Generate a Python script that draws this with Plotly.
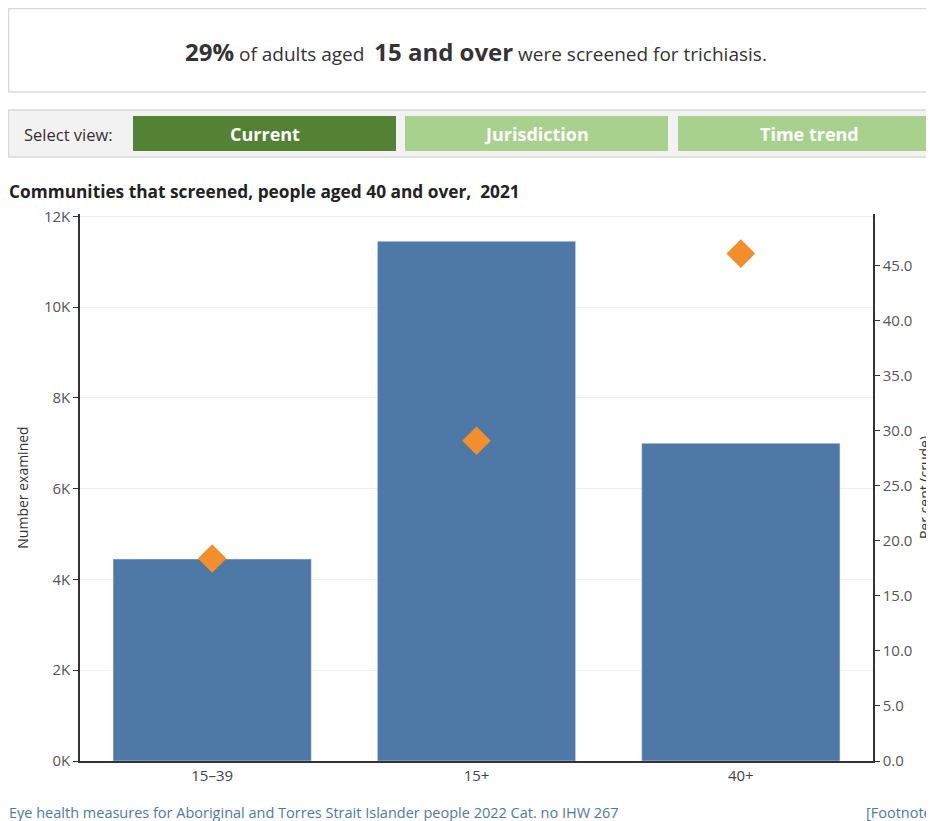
import plotly.graph_objects as go

categories = ["15–39", "15+", "40+"]
number_examined = [4450, 11450, 7000]
percent_crude = [18.4, 29.1, 46.1]
left_tick_values = [0, 2000, 4000, 6000, 8000, 10000, 12000]
left_tick_labels = ["0K", "2K", "4K", "6K", "8K", "10K", "12K"]
right_tick_values = [0, 5, 10, 15, 20, 25, 30, 35, 40, 45]

OFF = 8  # page body margin
W, H = 934 - OFF, 821 - OFF
L, R, T, B = 72, 61, 206, 60
PW, PH = W - L - R, H - T - B

def px(x):
    return (x - OFF - L) / PW

def py(y):
    return (H - B - (y - OFF)) / PH

FONT = "Open Sans"
fig = go.Figure()
fig.add_trace(go.Bar(x=categories, y=number_examined, marker_color="#4E79A7",
                     width=0.75, yaxis="y", name="Number examined"))
fig.add_trace(go.Scatter(x=categories, y=percent_crude, mode="markers", yaxis="y2",
                         marker=dict(symbol="diamond", size=22, color="#F28E2B"),
                         name="Per cent"))

shapes = []
shapes.append(dict(type="rect", xref="paper", yref="paper", x0=px(8.5), x1=px(945),
                   y0=py(92), y1=py(8.5), line=dict(color="#d9d9d9", width=1.5), fillcolor="white", layer="below"))
shapes.append(dict(type="rect", xref="paper", yref="paper", x0=px(8.5), x1=px(945),
                   y0=py(157), y1=py(110), line=dict(color="#d9d9d9", width=1.5), fillcolor="#f2f2f2", layer="below"))
buttons = [("Current", 133, 396, "#548235"), ("Jurisdiction", 405, 668, "#A9D18E"), ("Time trend", 678, 941, "#A9D18E")]
annotations = []
for label, x0, x1, col in buttons:
    shapes.append(dict(type="rect", xref="paper", yref="paper", x0=px(x0), x1=px(x1),
                       y0=py(151), y1=py(116), line=dict(width=0), fillcolor=col, layer="below"))
    annotations.append(dict(x=px((x0 + x1) / 2), y=py(134), xref="paper", yref="paper",
                            text=f"<b>{label}</b>", showarrow=False,
                            font=dict(family=FONT, size=18, color="white"),
                            xanchor="center", yanchor="middle"))

annotations.append(dict(x=px(22), y=py(134), xref="paper", yref="paper", text="Select view:",
                        showarrow=False, font=dict(family=FONT, size=16.5, color="#333"),
                        xanchor="left", yanchor="middle"))
annotations.append(dict(x=px(476), y=py(52), xref="paper", yref="paper",
                        text="<b><span style='font-size:24px'>29%</span></b> of adults aged  "
                             "<b><span style='font-size:24px'>15 and over</span></b> were screened for trichiasis.",
                        showarrow=False, font=dict(family=FONT, size=19, color="#333"),
                        xanchor="center", yanchor="middle"))
annotations.append(dict(x=px(7), y=py(191), xref="paper", yref="paper",
                        text="<b>Communities that screened, people aged 40 and over,  2021</b>",
                        showarrow=False, font=dict(family=FONT, size=17.3, color="#222"),
                        xanchor="left", yanchor="middle"))
annotations.append(dict(x=px(7), y=py(812), xref="paper", yref="paper",
                        text="Eye health measures for Aboriginal and Torres Strait Islander people 2022 Cat. no IHW 267",
                        showarrow=False, font=dict(family=FONT, size=14.5, color="#4E79A7"),
                        xanchor="left", yanchor="middle"))
annotations.append(dict(x=px(864), y=py(812), xref="paper", yref="paper",
                        text="[Footnotes]",
                        showarrow=False, font=dict(family=FONT, size=14.5, color="#4E79A7"),
                        xanchor="left", yanchor="middle"))

fig.update_layout(
    width=W, height=H,
    margin=dict(l=L, r=R, t=T, b=B, autoexpand=False),
    paper_bgcolor="white", plot_bgcolor="white",
    showlegend=False, bargap=0.25,
    font=dict(family=FONT, size=15, color="#555"),
    shapes=shapes, annotations=annotations,
    xaxis=dict(showline=True, linecolor="#333", linewidth=1.5, ticks="", tickfont=dict(size=15, color="#444"),
               showgrid=False, automargin=False),
    yaxis=dict(range=[0, 12050], tickvals=left_tick_values, ticktext=left_tick_labels,
               showline=True, linecolor="#333", linewidth=1.5, ticks="outside", ticklen=5, tickcolor="#333",
               showgrid=True, gridcolor="#eeeeee", zeroline=False, automargin=False,
               title=dict(text="Number examined", font=dict(size=14, color="#333"), standoff=12),
               tickfont=dict(size=15, color="#555")),
    yaxis2=dict(range=[0, 49.7], overlaying="y", side="right", tickvals=right_tick_values,
                tickformat=".1f", showline=True, linecolor="#333", linewidth=1.5, ticks="outside",
                ticklen=5, tickcolor="#333", showgrid=False, zeroline=False, automargin=False,
                title=dict(text="Per cent (crude)", font=dict(size=14, color="#333"), standoff=22),
                tickfont=dict(size=15, color="#555")),
)

fig.write_html("out.html")
